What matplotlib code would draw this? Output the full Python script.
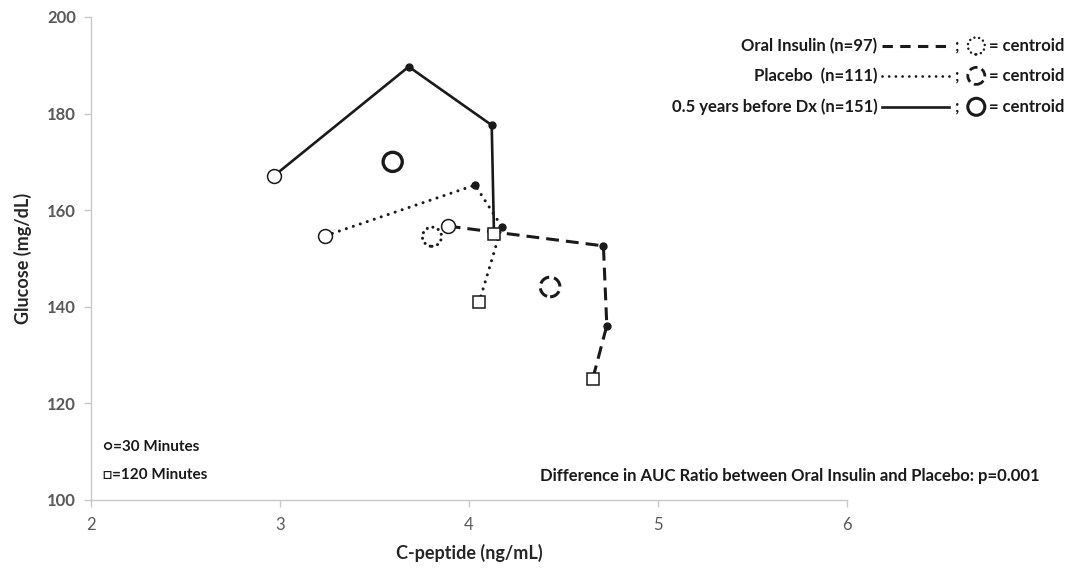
import matplotlib
matplotlib.use('Agg')
import matplotlib.pyplot as plt
import numpy as np

plt.rcParams['font.family'] = ['Lato', 'DejaVu Sans']

# C-peptide (ng/mL) and glucose (mg/dL) at 30, 60, 90, 120 minutes
oral_x = [3.887, 4.711, 4.729, 4.654]
oral_y = [156.7, 152.6, 136.1, 125.0]
placebo_x = [3.240, 4.032, 4.173, 4.053]
placebo_y = [154.7, 165.2, 156.6, 140.9]
prior_x = [2.968, 3.681, 4.120, 4.132]
prior_y = [167.1, 189.7, 177.6, 155.1]

# centroids
cent_x = {'oral': 4.429, 'placebo': 3.804, 'prior': 3.596}
cent_y = {'oral': 144.1, 'placebo': 154.5, 'prior': 170.0}

legend_labels = ['Oral Insulin (n=97)', 'Placebo  (n=111)', '0.5 years before Dx (n=151)']

ink = '#1a1a1a'
dash_ls = (0, (4.2, 2.3))
dot_ls = (0, (0.01, 2.4))


def main():
    fig = plt.figure(figsize=(10.76, 5.69), dpi=100)
    ax = fig.add_axes([0.0846, 0.1213, 0.7026, 0.8489])

    series = [
        (oral_x, oral_y, dict(ls=dash_ls, lw=2.2, dash_capstyle='butt')),
        (placebo_x, placebo_y, dict(ls=dot_ls, lw=2.2, dash_capstyle='round')),
        (prior_x, prior_y, dict(ls='-', lw=1.9)),
    ]
    for xs, ys, st in series:
        ax.plot(xs, ys, color=ink, zorder=2, **st)
        ax.plot(xs[1:-1], ys[1:-1], 'o', color=ink, ms=5, zorder=3)
        ax.plot(xs[0], ys[0], 'o', mfc='white', mec=ink, ms=10, mew=1.1, zorder=4)
        ax.plot(xs[-1], ys[-1], 's', mfc='white', mec=ink, ms=9, mew=1.1, zorder=4)

    # centroids
    ax.scatter(cent_x['oral'], cent_y['oral'], s=200, facecolors='none',
               edgecolors=ink, linewidths=2.2, linestyles=[(0, (3.6, 1.6))], zorder=3)
    ax.scatter(cent_x['placebo'], cent_y['placebo'], s=190, facecolors='none',
               edgecolors=ink, linewidths=2.2, linestyles=[(0, (0.01, 1.9))],
               capstyle='round', zorder=3)
    ax.scatter(cent_x['prior'], cent_y['prior'], s=190, facecolors='none',
               edgecolors=ink, linewidths=2.4, zorder=3)

    ax.set_xlim(2, 6)
    ax.set_ylim(100, 200)
    ax.set_xticks([2, 3, 4, 5, 6])
    ax.set_yticks([100, 120, 140, 160, 180, 200])
    for s in ['top', 'right']:
        ax.spines[s].set_visible(False)
    for s in ['left', 'bottom']:
        ax.spines[s].set_color('#c8c8c8')
        ax.spines[s].set_linewidth(1.0)
    ax.tick_params(colors='#c8c8c8', length=5, width=1.0, labelcolor='#595959')
    ax.tick_params(axis='y', labelsize=12, pad=6)
    ax.tick_params(axis='x', labelsize=12, pad=7)
    for lab in ax.get_yticklabels():
        lab.set_fontweight('bold')

    ax.set_xlabel('C-peptide (ng/mL)', fontsize=13, fontweight='bold', color='#262626', labelpad=8)
    ax.set_ylabel('Glucose (mg/dL)', fontsize=13, fontweight='bold', color='#262626', labelpad=11)

    # legend block, drawn by hand
    rows_y = [0.940, 0.878, 0.814]
    styles = [dict(ls=(0, (3.4, 2.4)), lw=2.2), dict(ls=dot_ls, lw=2.0, dash_capstyle='round'),
              dict(ls='-', lw=1.9)]
    sym = [dict(linestyles=[(0, (0.01, 1.9))], capstyle='round', linewidths=1.8),
           dict(linestyles=[(0, (3.0, 1.6))], linewidths=2.0),
           dict(linewidths=2.2)]
    for yy, lab, st, sm in zip(rows_y, legend_labels, styles, sym):
        ax.text(1.040, yy, lab, transform=ax.transAxes, ha='right', va='center',
                fontsize=12, fontweight='bold', color=ink)
        ax.plot([1.046, 1.135], [yy, yy], transform=ax.transAxes, color=ink,
                clip_on=False, **st)
        ax.text(1.146, yy, ';', transform=ax.transAxes, ha='center', va='center',
                fontsize=12, fontweight='bold', color=ink)
        ax.scatter([1.171], [yy], s=150, transform=ax.transAxes, facecolors='none',
                   edgecolors=ink, clip_on=False, **sm)
        ax.text(1.188, yy, '= centroid', transform=ax.transAxes, ha='left', va='center',
                fontsize=12, fontweight='bold', color=ink)

    ax.text(0.016, 0.110, '\u25cb=30 Minutes', transform=ax.transAxes, ha='left', va='center',
            fontsize=11, fontweight='bold', color=ink)
    ax.text(0.016, 0.052, '\u25a1=120 Minutes', transform=ax.transAxes, ha='left', va='center',
            fontsize=11, fontweight='bold', color=ink)
    ax.text(1.255, 0.050, 'Difference in AUC Ratio between Oral Insulin and Placebo: p=0.001',
            transform=ax.transAxes, ha='right', va='center', fontsize=12,
            fontweight='bold', color=ink)

    fig.savefig('out.png', dpi=100)


if __name__ == "__main__":
    main()
